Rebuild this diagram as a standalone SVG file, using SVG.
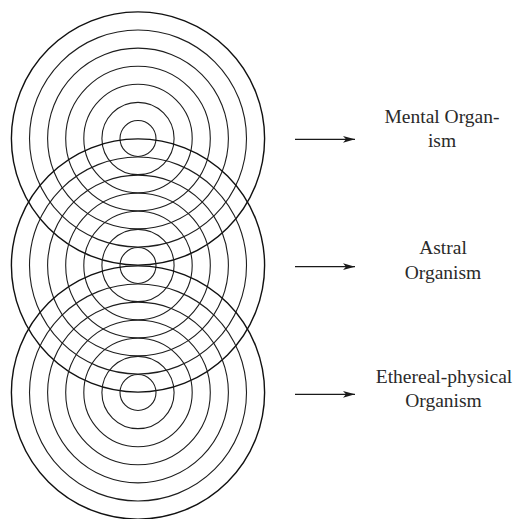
<svg xmlns="http://www.w3.org/2000/svg" width="515" height="519" viewBox="0 0 515 519">
<defs>
<style>
.ring{fill:none;stroke:#1e1e1e;stroke-width:1.1}
.outer{fill:none;stroke:#111;stroke-width:1.4}
.lbl{font-family:"Liberation Serif","Times New Roman",serif;font-size:19.5px;fill:#2a2a2a;text-anchor:middle}
.conn{stroke:#1a1a1a;stroke-width:1.2;fill:none}
</style>
<marker id="ah" markerUnits="userSpaceOnUse" markerWidth="14" markerHeight="8" refX="12" refY="4" orient="auto">
<path d="M0,0.6 L12,4 L0,7.4 L3,4 Z" fill="#1a1a1a"/>
</marker>
</defs>
<rect width="515" height="519" fill="#fff"/>
<g id="mental-rings">
<circle class="ring" cx="138" cy="138.5" r="18"/>
<circle class="ring" cx="138" cy="138.5" r="36.1"/>
<circle class="ring" cx="138" cy="138.5" r="54.2"/>
<circle class="ring" cx="138" cy="138.5" r="72.3"/>
<circle class="ring" cx="138" cy="138.5" r="90.4"/>
<circle class="ring" cx="138" cy="138.5" r="108.5"/>
<circle class="outer" cx="138" cy="138.5" r="126.6"/>
</g>
<g id="astral-rings">
<circle class="ring" cx="138" cy="265.5" r="18"/>
<circle class="ring" cx="138" cy="265.5" r="36.1"/>
<circle class="ring" cx="138" cy="265.5" r="54.2"/>
<circle class="ring" cx="138" cy="265.5" r="72.3"/>
<circle class="ring" cx="138" cy="265.5" r="90.4"/>
<circle class="ring" cx="138" cy="265.5" r="108.5"/>
<circle class="outer" cx="138" cy="265.5" r="126.6"/>
</g>
<g id="etheric-rings">
<circle class="ring" cx="138" cy="392.5" r="18"/>
<circle class="ring" cx="138" cy="392.5" r="36.1"/>
<circle class="ring" cx="138" cy="392.5" r="54.2"/>
<circle class="ring" cx="138" cy="392.5" r="72.3"/>
<circle class="ring" cx="138" cy="392.5" r="90.4"/>
<circle class="ring" cx="138" cy="392.5" r="108.5"/>
<circle class="outer" cx="138" cy="392.5" r="126.6"/>
</g>
<g id="connectors">
<line class="conn" x1="295" y1="139.3" x2="355" y2="139.3" marker-end="url(#ah)"/>
<line class="conn" x1="295" y1="266.7" x2="355" y2="266.7" marker-end="url(#ah)"/>
<line class="conn" x1="295" y1="394.3" x2="355" y2="394.3" marker-end="url(#ah)"/>
</g>
<g id="label-mental">
<text class="lbl" x="442" y="123.3">Mental Organ-</text>
<text class="lbl" x="442" y="147.3">ism</text>
</g>
<g id="label-astral">
<text class="lbl" x="443" y="254">Astral</text>
<text class="lbl" x="443" y="279.3">Organism</text>
</g>
<g id="label-etheric">
<text class="lbl" x="444" y="383.3">Ethereal-physical</text>
<text class="lbl" x="443.5" y="406.7">Organism</text>
</g>
</svg>
